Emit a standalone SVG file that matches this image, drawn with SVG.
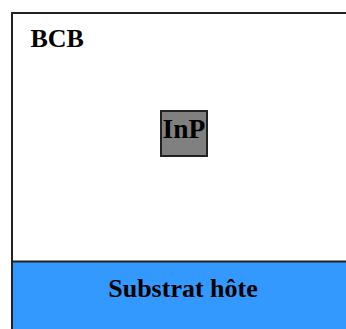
<svg xmlns="http://www.w3.org/2000/svg" width="346" height="329" viewBox="0 0 346 329">
<style>
.lbl{font-family:"Liberation Serif","Times New Roman",serif;font-weight:bold;font-size:26px;fill:#000}
.edge{stroke:#222;stroke-width:2}
</style>
<rect x="0" y="0" width="346" height="329" fill="#fff"/>
<g id="bcb">
<rect class="edge" x="12" y="13" width="400" height="400" fill="#fff"/>
<text class="lbl" x="30.5" y="47">BCB</text>
</g>
<g id="substrat">
<rect class="edge" x="12" y="261.5" width="400" height="120" fill="#3399FF"/>
<text class="lbl" x="183" y="296.5" text-anchor="middle">Substrat hôte</text>
</g>
<g id="inp">
<rect class="edge" x="161" y="111" width="46" height="45" fill="#808080"/>
<text class="lbl" x="184" y="137.5" text-anchor="middle" style="font-size:27.5px">InP</text>
</g>
<g id="connectors"/>
</svg>
